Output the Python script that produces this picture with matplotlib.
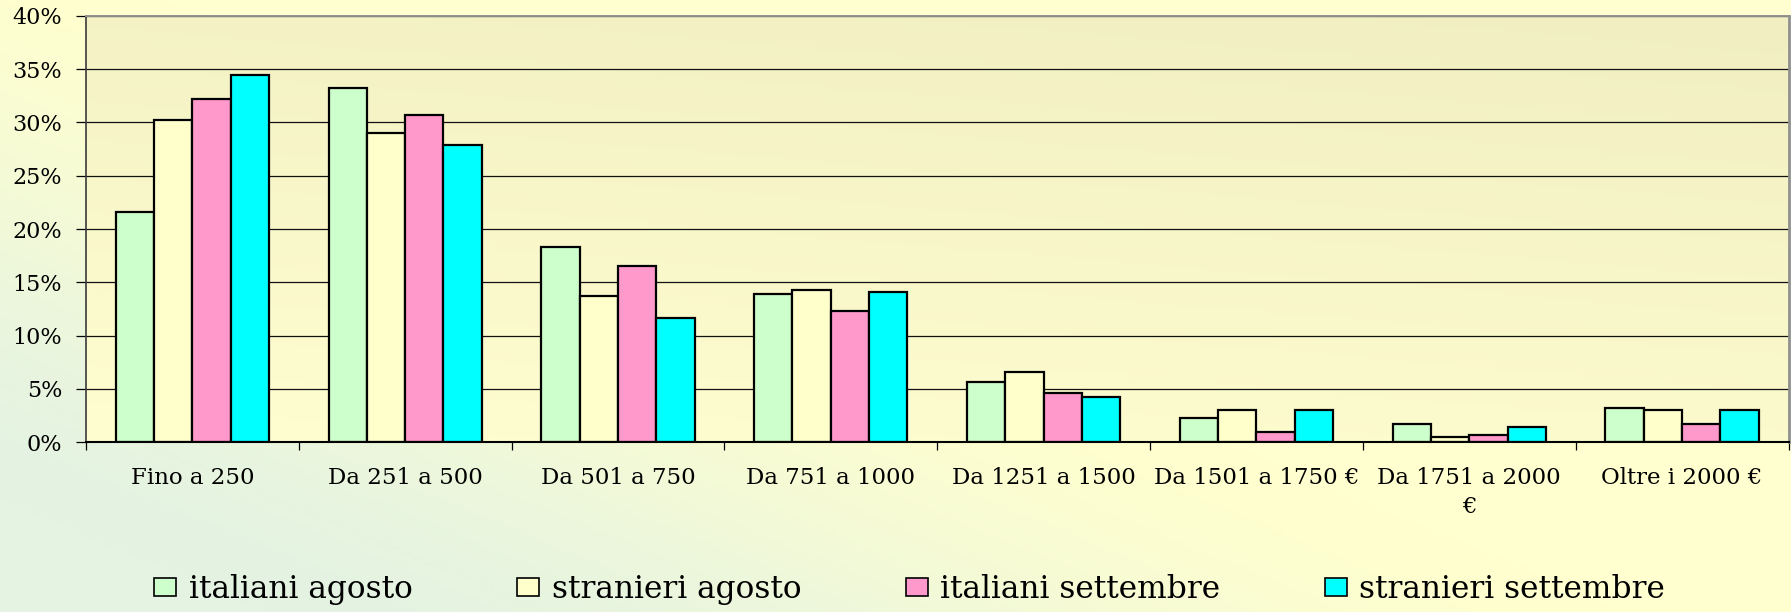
import numpy as np
import matplotlib
matplotlib.use("Agg")
import matplotlib.pyplot as plt
from matplotlib.ticker import FixedLocator, FuncFormatter

plt.rcParams['font.family'] = ['DejaVu Serif']

categories = ["Fino a 250", "Da 251 a 500", "Da 501 a 750", "Da 751 a 1000",
              "Da 1251 a 1500", "Da 1501 a 1750 €", "Da 1751 a 2000\n€", "Oltre i 2000 €"]
series_names = ["italiani agosto", "stranieri agosto", "italiani settembre", "stranieri settembre"]
italiani_agosto = [21.6, 33.2, 18.3, 13.9, 5.7, 2.3, 1.75, 3.2]
stranieri_agosto = [30.2, 29.0, 13.7, 14.3, 6.6, 3.0, 0.5, 3.0]
italiani_settembre = [32.2, 30.7, 16.5, 12.3, 4.6, 1.0, 0.7, 1.75]
stranieri_settembre = [34.4, 27.9, 11.7, 14.1, 4.25, 3.0, 1.4, 3.0]
colors = ["#CCFFCC", "#FFFFCC", "#FF99CC", "#00FFFF"]
y_ticks = [0, 5, 10, 15, 20, 25, 30, 35, 40]

W, H = 1791, 612
fig = plt.figure(figsize=(W / 100, H / 100), dpi=100)

# figure background gradient (green bottom-left -> yellow)
bg = fig.add_axes([0, 0, 1, 1], zorder=-10)
nx, ny = 300, 120
xx, yy = np.meshgrid(np.linspace(0, 1, nx), np.linspace(0, 1, ny))
t = 0.55 * xx + 0.45 * yy
s = np.clip((t - 0.08) / (0.5 - 0.08), 0, 1)
s = s * s * (3 - 2 * s)
green = np.array([0xE4, 0xF3, 0xE2]) / 255
yellow = np.array([0xFF, 0xFF, 0xCF]) / 255
img = green[None, None, :] * (1 - s[..., None]) + yellow[None, None, :] * s[..., None]
bg.imshow(img, extent=(0, 1, 0, 1), origin='lower', aspect='auto')
bg.set_xlim(0, 1); bg.set_ylim(0, 1)
bg.axis('off')

rect = [85.9 / W, 1 - 442.3 / H, (1788.5 - 85.9) / W, (442.3 - 15.7) / H]

# plot area gradient
pbg = fig.add_axes(rect, zorder=-5)
t2 = 0.75 * yy + 0.25 * xx
c_lo = np.array([0xFF, 0xFE, 0xD0]) / 255
c_hi = np.array([0xF1, 0xEF, 0xC2]) / 255
img2 = c_lo[None, None, :] * (1 - t2[..., None]) + c_hi[None, None, :] * t2[..., None]
pbg.imshow(img2, extent=(0, 1, 0, 1), origin='lower', aspect='auto')
pbg.set_xlim(0, 1); pbg.set_ylim(0, 1)
pbg.axis('off')

ax = fig.add_axes(rect)
ax.set_facecolor('none')

x = np.arange(len(categories))
bw = 0.18
offsets = [-0.27, -0.09, 0.09, 0.27]
all_series = [italiani_agosto, stranieri_agosto, italiani_settembre, stranieri_settembre]
handles = []
for vals, off, col, name in zip(all_series, offsets, colors, series_names):
    b = ax.bar(x + off, vals, width=bw, color=col, edgecolor='black', linewidth=1.6,
               label=name, zorder=3)
    handles.append(b)

ax.set_xlim(-0.5, len(categories) - 0.5)
ax.set_ylim(0, 40)

ax.yaxis.set_major_locator(FixedLocator(y_ticks))
ax.yaxis.set_major_formatter(FuncFormatter(lambda v, p: f"{int(round(v))}%"))
ax.yaxis.grid(True, color='#111111', linewidth=0.9)
ax.set_axisbelow(True)

ax.set_xticks(x)
ax.set_xticklabels(categories, linespacing=1.4)
ax.set_xticks(np.arange(len(categories) + 1) - 0.5, minor=True)
ax.tick_params(axis='x', which='major', length=0, pad=18, labelsize=16.5)
ax.tick_params(axis='x', which='minor', length=6, width=0.9, direction='out', color='black')
ax.tick_params(axis='y', which='major', length=7, width=0.9, direction='out', color='black',
               pad=10, labelsize=16)

ax.spines['left'].set_color('#3a3a3a')
ax.spines['left'].set_linewidth(1.2)
ax.spines['bottom'].set_color('black')
ax.spines['bottom'].set_linewidth(1.5)
ax.spines['top'].set_color('#909090')
ax.spines['top'].set_linewidth(1.4)
ax.spines['right'].set_color('#909090')
ax.spines['right'].set_linewidth(2.0)
for sp in ax.spines.values():
    sp.set_zorder(4)

leg = fig.legend(handles=handles, labels=series_names, loc='center',
                 bbox_to_anchor=(0.508, 0.037), ncol=4, frameon=False, fontsize=22.5,
                 handlelength=0.7, handleheight=0.5, handletextpad=0.4,
                 columnspacing=3.35, borderaxespad=0)
for p in leg.get_patches():
    p.set_linewidth(1.2)

fig.savefig("out.png", dpi=100)
